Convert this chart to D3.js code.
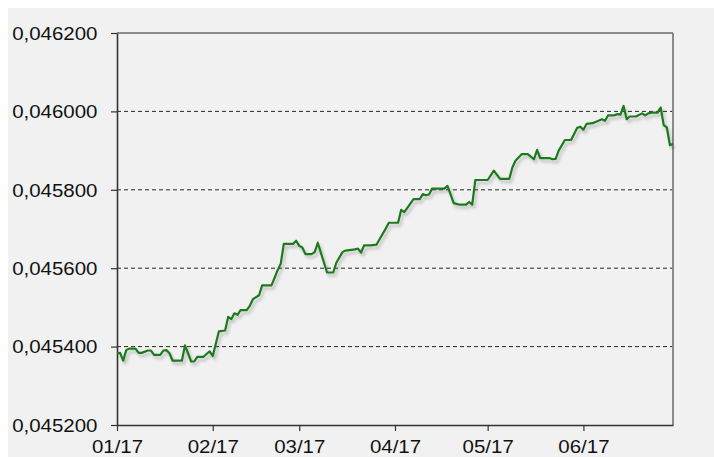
<!DOCTYPE html>
<html>
<head>
<meta charset="utf-8">
<script src="https://cdn.jsdelivr.net/npm/d3@7"></script>
<style>
  html, body { margin: 0; padding: 0; background: #fff; }
  svg { display: block; }
</style>
</head>
<body>
<div class="viewbox"></div>
<script>
// values, one per vertex of the line
const dates = [
  "2017-01-01","2017-01-02","2017-01-03","2017-01-04","2017-01-05","2017-01-07","2017-01-08","2017-01-09",
  "2017-01-11","2017-01-12","2017-01-13","2017-01-15","2017-01-16","2017-01-17","2017-01-18","2017-01-19",
  "2017-01-22","2017-01-23","2017-01-24","2017-01-25","2017-01-26","2017-01-27","2017-01-29","2017-01-30",
  "2017-01-31","2017-02-01","2017-02-03","2017-02-05","2017-02-06","2017-02-07","2017-02-08","2017-02-09",
  "2017-02-10","2017-02-12","2017-02-13","2017-02-14","2017-02-16","2017-02-17","2017-02-20","2017-02-21",
  "2017-02-22","2017-02-23","2017-02-24","2017-02-27","2017-02-28","2017-03-01","2017-03-02","2017-03-03",
  "2017-03-05","2017-03-06","2017-03-07","2017-03-10","2017-03-12","2017-03-13","2017-03-15","2017-03-16",
  "2017-03-19","2017-03-20","2017-03-21","2017-03-22","2017-03-24","2017-03-26","2017-03-27","2017-03-29",
  "2017-03-30","2017-04-02","2017-04-03","2017-04-04","2017-04-05","2017-04-07","2017-04-09","2017-04-10",
  "2017-04-11","2017-04-12","2017-04-13","2017-04-17","2017-04-18","2017-04-20","2017-04-22","2017-04-24",
  "2017-04-25","2017-04-26","2017-04-27","2017-05-01","2017-05-03","2017-05-05","2017-05-08","2017-05-09",
  "2017-05-10","2017-05-12","2017-05-14","2017-05-16","2017-05-17","2017-05-18","2017-05-21","2017-05-22",
  "2017-05-23","2017-05-24","2017-05-26","2017-05-28","2017-05-30","2017-05-31","2017-06-01","2017-06-02",
  "2017-06-04","2017-06-07","2017-06-08","2017-06-09","2017-06-11","2017-06-12","2017-06-13","2017-06-14",
  "2017-06-15","2017-06-16","2017-06-18","2017-06-20","2017-06-21","2017-06-22","2017-06-23","2017-06-25",
  "2017-06-26","2017-06-27","2017-06-28","2017-06-29","2017-06-30"
];
const values = [
  0.045383,0.045384,0.045364,0.045391,0.045395,0.045395,0.045384,0.045384,
  0.045390,0.045390,0.045379,0.045379,0.045390,0.045391,0.045383,0.045364,
  0.045364,0.045403,0.045383,0.045362,0.045362,0.045374,0.045374,0.045381,
  0.045388,0.045376,0.045439,0.045441,0.045476,0.045470,0.045485,0.045481,
  0.045493,0.045493,0.045504,0.045521,0.045531,0.045556,0.045556,0.045575,
  0.045595,0.045611,0.045662,0.045662,0.045670,0.045657,0.045653,0.045636,
  0.045636,0.045641,0.045665,0.045589,0.045589,0.045614,0.045641,0.045645,
  0.045648,0.045650,0.045640,0.045658,0.045658,0.045660,0.045674,0.045701,
  0.045716,0.045716,0.045749,0.045743,0.045754,0.045776,0.045776,0.045789,
  0.045786,0.045788,0.045803,0.045803,0.045810,0.045766,0.045762,0.045762,
  0.045769,0.045762,0.045825,0.045825,0.045849,0.045828,0.045828,0.045857,
  0.045874,0.045891,0.045891,0.045878,0.045902,0.045881,0.045881,0.045878,
  0.045879,0.045900,0.045927,0.045927,0.045958,0.045961,0.045953,0.045968,
  0.045970,0.045980,0.045976,0.045990,0.045990,0.045993,0.045992,0.046014,
  0.045980,0.045987,0.045987,0.045995,0.045990,0.045995,0.045997,0.045997,
  0.046010,0.045965,0.045959,0.045914,0.045917
];
const yTicks = [0.0452, 0.0454, 0.0456, 0.0458, 0.0460, 0.0462];
const xTickLabels = ["01/17", "02/17", "03/17", "04/17", "05/17", "06/17"];

const svg_width = 714;
const svg_height = 457;
const margin = { top: 33, right: 41, bottom: 32, left: 117 };
const w = svg_width - margin.left - margin.right;
const h = svg_height - margin.top - margin.bottom;

const parse = d3.timeParse("%Y-%m-%d");
const data = dates.map((d, i) => ({ date: parse(d), value: values[i] }));
const xTickDates = xTickLabels.map(s => d3.timeParse("%m/%y")(s));

const locale = d3.formatLocale({ decimal: ",", thousands: ".", grouping: [3], currency: ["", ""] });
const fmtY = locale.format(".6f");

let svg = d3.select(".viewbox")
  .append("svg")
  .attr("width", svg_width)
  .attr("height", svg_height);

// light gray panel (white strip left/top like the original)
svg.append("rect")
  .attr("x", 8).attr("y", 8)
  .attr("width", svg_width - 8).attr("height", svg_height - 8)
  .attr("fill", "#f1f1f1");

let defs = svg.append("defs");
defs.append("filter")
  .attr("id", "shadow")
  .attr("x", "-5%").attr("y", "-5%").attr("width", "110%").attr("height", "120%")
  .append("feDropShadow")
  .attr("dx", 2).attr("dy", 3)
  .attr("stdDeviation", 1.6)
  .attr("flood-color", "#000")
  .attr("flood-opacity", 0.22);

let g = svg.append("g")
  .attr("transform", `translate(${margin.left},${margin.top})`);

const x = d3.scaleTime()
  .domain([parse("2017-01-01"), parse("2017-06-30")])
  .range([0, w]);
const y = d3.scaleLinear()
  .domain([yTicks[0], yTicks[yTicks.length - 1]])
  .range([h, 0]);

// dashed grid lines
g.selectAll(".grid")
  .data(yTicks.slice(1, -1))
  .enter()
  .append("line")
  .attr("class", "grid")
  .attr("x1", 0).attr("x2", w)
  .attr("y1", d => y(d)).attr("y2", d => y(d))
  .attr("stroke", "#111")
  .attr("stroke-width", 0.9)
  .attr("stroke-dasharray", "4,3");

// top and right frame
g.append("line").attr("x1", 0).attr("x2", w).attr("y1", 0).attr("y2", 0)
  .attr("stroke", "#8a8a8a").attr("stroke-width", 2);
g.append("line").attr("x1", w).attr("x2", w).attr("y1", 0).attr("y2", h)
  .attr("stroke", "#8a8a8a").attr("stroke-width", 2);

const labelFont = "'Liberation Sans', Arial, sans-serif";

// y axis
let yAxis = g.append("g")
  .call(d3.axisLeft(y).tickValues(yTicks).tickFormat(fmtY).tickSize(6).tickSizeOuter(0));
yAxis.select(".domain").attr("stroke", "#333").attr("stroke-width", 1.6);
yAxis.selectAll(".tick line").attr("stroke", "#333").attr("stroke-width", 1.2);
yAxis.selectAll(".tick text")
  .attr("x", null).attr("dy", "0.36em")
  .attr("transform", "translate(-19.5,0) scale(1.17,1)")
  .attr("font-family", labelFont)
  .attr("font-size", 17.5)
  .attr("fill", "#111");

// x axis
let xAxis = g.append("g")
  .attr("transform", `translate(0,${h})`)
  .call(d3.axisBottom(x).tickValues(xTickDates).tickFormat(d3.timeFormat("%m/%y")).tickSize(6).tickSizeOuter(0));
xAxis.select(".domain").attr("stroke", "#333").attr("stroke-width", 1.6);
xAxis.selectAll(".tick line").attr("stroke", "#333").attr("stroke-width", 1.2);
xAxis.selectAll(".tick text")
  .attr("y", null).attr("dy", null)
  .attr("transform", "translate(0,28) scale(1.17,1)")
  .attr("font-family", labelFont)
  .attr("font-size", 17.5)
  .attr("fill", "#111");
yAxis.attr("font-family", null);
xAxis.attr("font-family", null);

// the series
const line = d3.line()
  .x(d => x(d.date))
  .y(d => y(d.value));

g.append("path")
  .datum(data)
  .attr("d", line)
  .attr("fill", "none")
  .attr("stroke", "#1f7a1f")
  .attr("stroke-width", 2.2)
  .attr("stroke-linejoin", "round")
  .attr("filter", "url(#shadow)");
</script>
</body>
</html>
